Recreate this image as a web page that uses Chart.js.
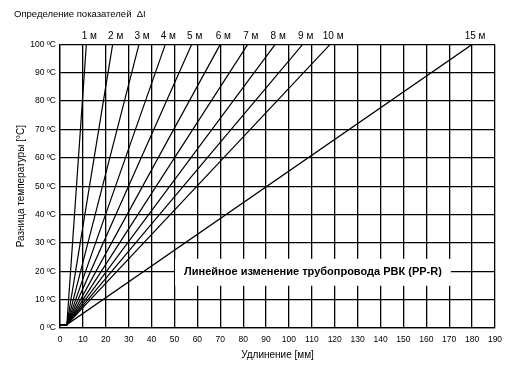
<!DOCTYPE html>
<html>
<head>
<meta charset="utf-8">
<script src="https://cdn.jsdelivr.net/npm/chart.js@4"></script>
<style>
  body { margin: 0; background: #fff; }
</style>
</head>
<body>
<canvas id="chart" width="511" height="365"></canvas>
<script>
// pipe lengths and elongation (mm) at a 100 °C difference
const lengths = ['1 м', '2 м', '3 м', '4 м', '5 м', '6 м', '7 м', '8 м', '9 м', '10 м', '15 м'];
const elongation = [11.5, 23, 34.5, 46, 57.5, 70, 82, 94, 106, 118, 180];
const startX = [0, 3];
const startY = [1.2, 1.2];
const topTemp = 100;

const boxText = 'Линейное изменение трубопровода РВК (PP-R)';
const boxAt = { x: 110.5, y: 20 };

const font = 'Liberation Sans, Arial, sans-serif';

const datasets = lengths.map((name, i) => ({
    label: name,
    data: [
        { x: startX[0], y: startY[0] },
        { x: startX[1], y: startY[1] },
        { x: elongation[i], y: topTemp }
    ],
    borderColor: '#000',
    borderWidth: 1.2,
    pointRadius: 0,
    showLine: true,
    fill: false
}));

const lineLabels = {
    id: 'lineLabels',
    afterDatasetsDraw(chart) {
        const ctx = chart.ctx;
        ctx.save();
        ctx.fillStyle = '#000';
        ctx.font = '10px ' + font;
        ctx.textAlign = 'center';
        ctx.textBaseline = 'bottom';
        chart.data.datasets.forEach((ds, i) => {
            const pts = chart.getDatasetMeta(i).data;
            const p = pts[pts.length - 1];
            ctx.fillText(ds.label, p.x + 3, chart.chartArea.top - 3);
        });

        // caption box
        const xs = chart.scales.x, ys = chart.scales.y;
        const cx = xs.getPixelForValue(boxAt.x), cy = ys.getPixelForValue(boxAt.y);
        ctx.font = 'bold 11px ' + font;
        const w = ctx.measureText(boxText).width + 18;
        const h = 27;
        ctx.fillStyle = '#fff';
        ctx.fillRect(cx - w / 2, cy - h / 2 + 1, w, h);
        ctx.fillStyle = '#000';
        ctx.textBaseline = 'middle';
        ctx.fillText(boxText, cx, cy + 1);
        ctx.restore();
    }
};

new Chart(document.getElementById('chart'), {
    type: 'scatter',
    data: { datasets: datasets },
    options: {
        responsive: false,
        animation: false,
        devicePixelRatio: 1,
        layout: { padding: { left: 14, right: 16, top: 3, bottom: 0 } },
        plugins: {
            legend: { display: false },
            tooltip: { enabled: false },
            title: {
                display: true,
                text: 'Определение показателей  ΔI',
                align: 'start',
                color: '#000',
                font: { family: font, size: 9.5, weight: 'normal' },
                padding: { top: 6, bottom: 24 }
            }
        },
        scales: {
            x: {
                type: 'linear',
                min: 0,
                max: 190,
                afterFit: s => { s.height = 37; },
                ticks: { stepSize: 10, color: '#000', padding: 7, maxRotation: 0, autoSkip: false,
                    font: { family: font, size: 8.5 } },
                grid: { color: '#000', lineWidth: 1.3, drawTicks: false },
                border: { color: '#000', width: 1.3 },
                title: { display: true, text: 'Удлинение [мм]', color: '#000',
                    font: { family: font, size: 10 }, padding: { top: 0, bottom: 4 } }
            },
            y: {
                type: 'linear',
                min: 0,
                max: 100,
                afterFit: s => { s.width = 46; },
                ticks: { stepSize: 10, color: '#000', padding: 4,
                    font: { family: font, size: 8.5 },
                    callback: v => v + ' ºC' },
                grid: { color: '#000', lineWidth: 1.3, drawTicks: false },
                border: { color: '#000', width: 1.3 },
                title: { display: true, text: 'Разница температуры [°C]', color: '#000',
                    font: { family: font, size: 10 }, padding: { top: 1, bottom: 0 } }
            }
        }
    },
    plugins: [lineLabels]
});
</script>
</body>
</html>
